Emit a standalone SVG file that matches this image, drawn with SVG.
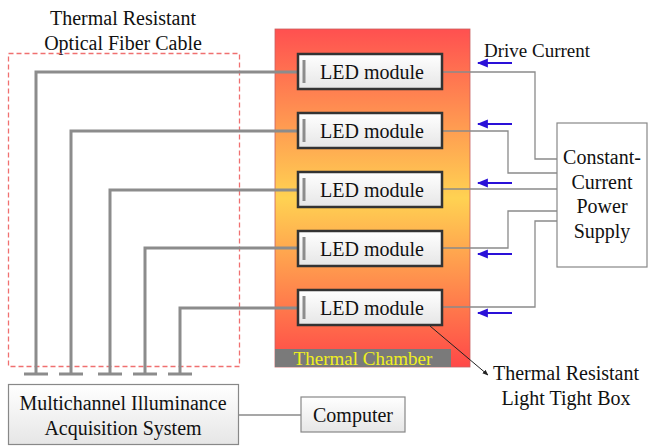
<svg xmlns="http://www.w3.org/2000/svg" width="649" height="447" viewBox="0 0 649 447" font-family="'Liberation Serif', 'Times New Roman', Times, 'DejaVu Serif', serif">
<defs>
<linearGradient id="heat" x1="0" y1="0" x2="0" y2="1">
<stop offset="0" stop-color="#ff5050"/>
<stop offset="0.5" stop-color="#ffd252"/>
<stop offset="1" stop-color="#ff4848"/>
</linearGradient>
<linearGradient id="box" x1="0" y1="0" x2="0" y2="1">
<stop offset="0" stop-color="#ffffff"/>
<stop offset="1" stop-color="#e6e6e6"/>
</linearGradient>
<marker id="blue" viewBox="0 0 10 10" refX="9" refY="5" markerWidth="5" markerHeight="5" orient="auto">
<path d="M0,1 L10,5 L0,9 Z" fill="#2a10d8"/>
</marker>
<marker id="blk" viewBox="0 0 10 10" refX="9" refY="5" markerWidth="6" markerHeight="6" orient="auto">
<path d="M0,1 L10,5 L0,9 Z" fill="#222"/>
</marker>
</defs>
<style>
text{font-family:'Liberation Serif','Times New Roman',Times,'DejaVu Serif',serif;fill:#111}
.t{font-size:20px;text-anchor:middle}
.led rect{fill:url(#box);stroke:#333;stroke-width:2.5}
.fiber{fill:none;stroke:#8c8c8c;stroke-width:3}
.wire{fill:none;stroke:#8a8a8a;stroke-width:1.3}
.plain{fill:url(#box);stroke:#888;stroke-width:1.2}
.arr{stroke:#2a10d8;stroke-width:2.2;fill:none}
</style>

<g id="fiber-label">
<text class="t" x="123" y="25">Thermal Resistant</text>
<text class="t" x="123" y="50">Optical Fiber Cable</text>
<rect x="8.5" y="53.5" width="231" height="313" fill="none" stroke="#f07070" stroke-width="1.3" stroke-dasharray="5,3"/>
</g>

<g id="chamber">
<rect x="275" y="29" width="195" height="338" fill="url(#heat)" stroke="#c86060" stroke-width="0.8"/>
<rect x="275" y="349" width="176" height="18" fill="#7a7a7a"/>
<text x="363" y="365" font-size="19" text-anchor="middle" style="fill:#f0f020">Thermal Chamber</text>
</g>

<g id="connectors">
<path class="fiber" d="M303,72 H36 V374 M24,374 H48"/>
<path class="fiber" d="M303,131 H71 V374 M59,374 H83"/>
<path class="fiber" d="M303,190 H110 V374 M98,374 H122"/>
<path class="fiber" d="M303,248 H145 V374 M133,374 H157"/>
<path class="fiber" d="M303,308 H180 V374 M168,374 H192"/>
<path class="wire" d="M443,72 H535 V159 H557"/>
<path class="wire" d="M443,131 H508 V173 H557"/>
<path class="wire" d="M443,189 H557"/>
<path class="wire" d="M443,248 H508 V211 H557"/>
<path class="wire" d="M443,307 H535 V221 H557"/>
<path class="wire" d="M239,415 H301"/>
<path d="M430,326 L488,375" stroke="#222" stroke-width="1" fill="none" marker-end="url(#blk)"/>
<path class="arr" d="M512,63 H478" marker-end="url(#blue)"/>
<path class="arr" d="M512,124 H478" marker-end="url(#blue)"/>
<path class="arr" d="M512,183 H478" marker-end="url(#blue)"/>
<path class="arr" d="M512,254 H478" marker-end="url(#blue)"/>
<path class="arr" d="M512,313 H478" marker-end="url(#blue)"/>
</g>

<g id="led1" class="led"><rect x="298" y="54" width="144" height="35"/><text class="t" x="372" y="79">LED module</text></g>
<g id="led2" class="led"><rect x="298" y="113" width="144" height="35"/><text class="t" x="372" y="138">LED module</text></g>
<g id="led3" class="led"><rect x="298" y="172" width="144" height="35"/><text class="t" x="372" y="197">LED module</text></g>
<g id="led4" class="led"><rect x="298" y="231" width="144" height="35"/><text class="t" x="372" y="256">LED module</text></g>
<g id="led5" class="led"><rect x="298" y="290" width="144" height="35"/><text class="t" x="372" y="315">LED module</text></g>

<g id="ticks" stroke="#8c8c8c" stroke-width="3">
<line x1="304" y1="60" x2="304" y2="83"/>
<line x1="304" y1="119" x2="304" y2="142"/>
<line x1="304" y1="178" x2="304" y2="201"/>
<line x1="304" y1="237" x2="304" y2="260"/>
<line x1="304" y1="296" x2="304" y2="319"/>
</g>

<g id="drive-label"><text x="484" y="57" font-size="19">Drive Current</text></g>

<g id="power">
<rect x="557" y="123" width="90" height="144" fill="#fff" stroke="#888" stroke-width="1.2"/>
<text class="t" x="602" y="164">Constant-</text>
<text class="t" x="602" y="189">Current</text>
<text class="t" x="602" y="213">Power</text>
<text class="t" x="602" y="238">Supply</text>
</g>

<g id="lighttight">
<text class="t" x="566" y="380">Thermal Resistant</text>
<text class="t" x="566" y="405">Light Tight Box</text>
</g>

<g id="mias">
<rect class="plain" x="8.5" y="384.5" width="230" height="60"/>
<text class="t" x="123" y="410">Multichannel Illuminance</text>
<text class="t" x="123" y="435">Acquisition System</text>
</g>

<g id="computer">
<rect class="plain" x="301" y="397" width="104" height="35"/>
<text class="t" x="353" y="422">Computer</text>
</g>
</svg>
